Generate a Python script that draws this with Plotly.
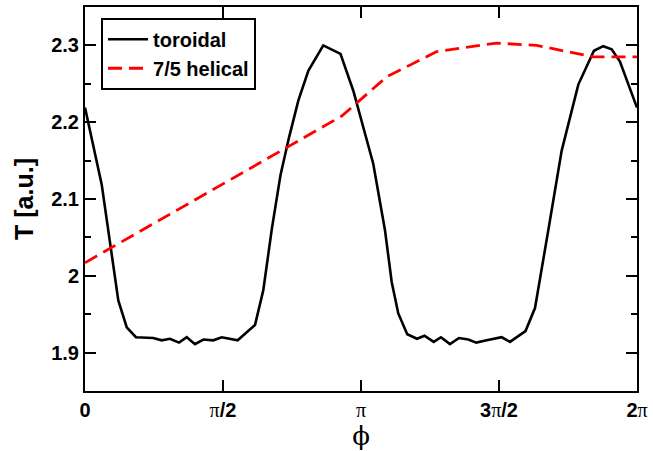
import math
import plotly.graph_objects as go

# toroidal curve: phi [rad], T [a.u.]
tor_phi = [0.000, 0.190, 0.379, 0.475, 0.580, 0.777, 0.873, 0.967, 1.070, 1.158,
           1.252, 1.347, 1.460, 1.556, 1.738, 1.935, 2.029, 2.128, 2.225, 2.322,
           2.428, 2.542, 2.712, 2.908, 3.054, 3.168, 3.281, 3.415, 3.491, 3.566,
           3.668, 3.779, 3.864, 3.969, 4.052, 4.154, 4.257, 4.363, 4.454, 4.572,
           4.743, 4.837, 5.014, 5.122, 5.196, 5.273, 5.426, 5.615, 5.793, 5.899,
           5.995, 6.089, 6.283]
tor_T = [2.219, 2.119, 1.968, 1.933, 1.920, 1.919, 1.916, 1.918, 1.913, 1.920,
         1.911, 1.917, 1.916, 1.920, 1.916, 1.936, 1.981, 2.062, 2.131, 2.180,
         2.228, 2.267, 2.300, 2.289, 2.241, 2.193, 2.146, 2.059, 1.992, 1.951,
         1.924, 1.918, 1.922, 1.914, 1.920, 1.911, 1.919, 1.917, 1.913, 1.916,
         1.920, 1.914, 1.928, 1.958, 2.005, 2.059, 2.163, 2.249, 2.293, 2.299,
         2.295, 2.279, 2.219]

# 7/5 helical curve
hel_phi = [0.000, 2.922, 3.434, 4.003, 4.686, 5.141, 5.786, 6.283]
hel_T = [2.017, 2.208, 2.259, 2.292, 2.303, 2.300, 2.285, 2.285]

x_tickvals = [0, math.pi / 2, math.pi, 3 * math.pi / 2, 2 * math.pi]
PI = '<span style="font-family:Liberation Serif;font-weight:normal">π</span>'
x_ticktext = ["<b>0</b>", PI + "<b>/2</b>", PI, "<b>3</b>" + PI + "<b>/2</b>", "<b>2</b>" + PI]
y_tickvals = [1.9, 2.0, 2.1, 2.2, 2.3]
y_ticktext = ["1.9", "2", "2.1", "2.2", "2.3"]

fig = go.Figure()
fig.add_trace(go.Scatter(x=tor_phi, y=tor_T, mode="lines", name="<b>toroidal</b>",
                         line=dict(color="black", width=2.6)))
fig.add_trace(go.Scatter(x=hel_phi, y=hel_T, mode="lines", name="<b>7/5 helical</b>",
                         line=dict(color="#ff0000", width=2.8, dash="14px,7px")))

axis_common = dict(showline=True, linecolor="black", linewidth=2, mirror="ticks",
                   ticks="inside", tickcolor="black", tickwidth=2, ticklen=11,
                   showgrid=False, zeroline=False)

fig.update_xaxes(range=[0, 2 * math.pi], tickmode="array", tickvals=x_tickvals,
                 ticktext=x_ticktext,
                 tickfont=dict(family="Liberation Sans", size=20, color="black"),
                 title=dict(text='<span style="font-family:DejaVu Serif">ϕ</span>',
                            font=dict(size=26, color="black"), standoff=2),
                 **axis_common)
fig.update_yaxes(range=[1.85, 2.35], tickmode="array", tickvals=y_tickvals,
                 ticktext=y_ticktext,
                 tickfont=dict(family="Liberation Sans", size=20, color="black", weight="bold"),
                 title=dict(text="<b>T [a.u.]</b>",
                            font=dict(family="Liberation Sans", size=25, color="black"),
                            standoff=10),
                 minor=dict(ticks="inside", dtick=0.05, tick0=1.85, ticklen=6,
                            tickwidth=2, tickcolor="black", showgrid=False),
                 **axis_common)

fig.update_layout(
    width=653, height=451,
    margin=dict(l=85, r=16, t=5, b=60),
    paper_bgcolor="white", plot_bgcolor="white",
    showlegend=True,
    legend=dict(x=0.029, y=0.972, xanchor="left", yanchor="top",
                bgcolor="white", bordercolor="black", borderwidth=2,
                font=dict(family="Liberation Sans", size=20, color="black"),
                tracegroupgap=0, itemwidth=40),
)

fig.write_html("out.html")
